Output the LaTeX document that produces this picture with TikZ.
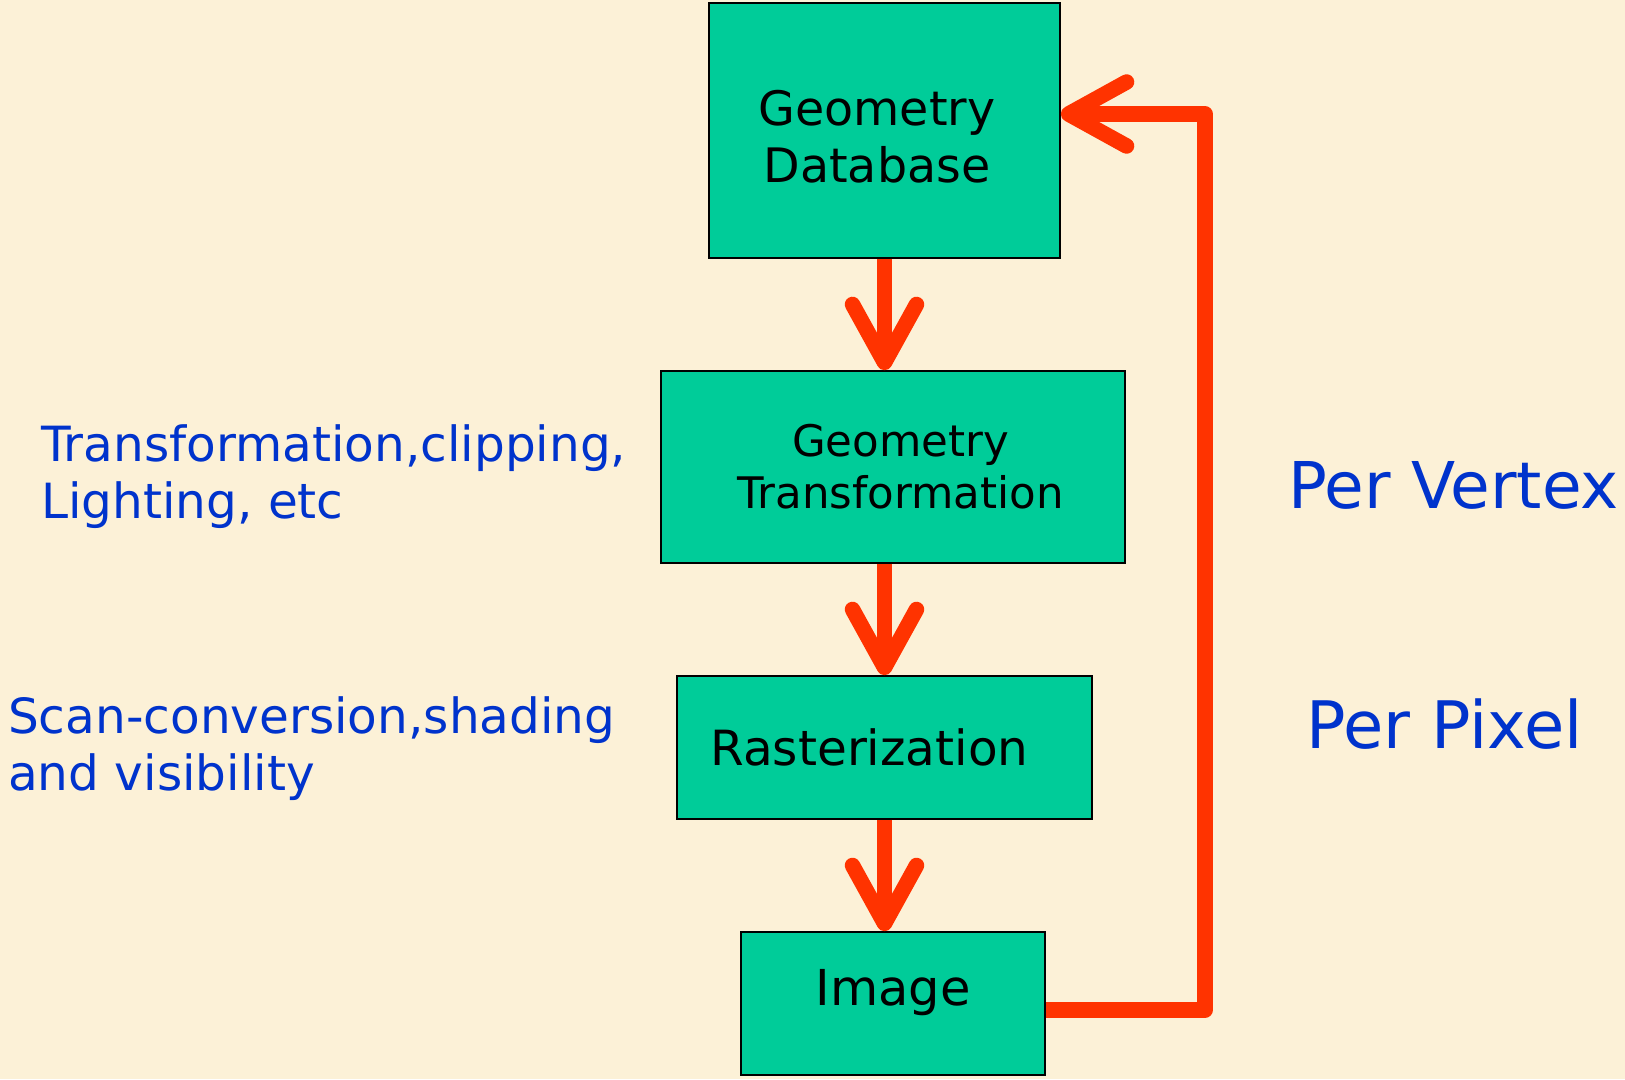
\documentclass[tikz,border=0pt]{standalone}
\usepackage{fontspec}
\setmainfont{DejaVu Sans}
\usetikzlibrary{arrows.meta}
\definecolor{bg}{RGB}{252,241,215}
\definecolor{boxgreen}{RGB}{0,204,153}
\definecolor{arrred}{RGB}{255,51,0}
\definecolor{txtblue}{RGB}{0,51,204}
\begin{document}
\begin{tikzpicture}[x=1pt,y=-1pt,
  stage/.style={draw=black, line width=1.6pt, fill=boxgreen, inner sep=0pt, rectangle},
  boxtext/.style={inner sep=0pt, align=center, text=black},
  note/.style={inner sep=0pt, align=left, text=txtblue},
  flow/.style={draw=arrred, line width=15.5pt, -{Straight Barb[length=58pt, width=64pt, round]}}]
\useasboundingbox (0,0) rectangle (1625,1079);
\fill[bg] (0,0) rectangle (1625,1079);
% stages
\node[stage, minimum width=351pt, minimum height=255pt] (db) at (884.5,130.5) {};
\node[stage, minimum width=464pt, minimum height=192pt] (gt) at (893,467) {};
\node[stage, minimum width=415pt, minimum height=143pt] (ras) at (884.5,747.5) {};
\node[stage, minimum width=304pt, minimum height=143pt] (img) at (893,1003.5) {};
% stage texts
\node[boxtext, anchor=north, font=\fontsize{47.5}{57}\selectfont] (dbt) at (877,90) {Geometry\\Database};
\node[boxtext, anchor=north, font=\fontsize{43.5}{52}\selectfont] (gtt) at (900.5,424) {Geometry\\Transformation};
\node[boxtext, anchor=base, font=\fontsize{48.5}{57}\selectfont] (rast) at (869.5,765) {Rasterization};
\node[boxtext, anchor=base, font=\fontsize{49.5}{57}\selectfont] (imgt) at (893,1005) {Image};
% side notes
\node[note, anchor=north west, font=\fontsize{48.5}{57}\selectfont] (n1) at (41,424) {Transformation,clipping,\\Lighting, etc};
\node[note, anchor=north west, font=\fontsize{48.5}{57}\selectfont] (n2) at (8,696) {Scan-conversion,shading\\and visibility};
\node[note, anchor=base west, font=\fontsize{64.5}{76}\selectfont] (pv) at (1288,508) {Per Vertex};
\node[note, anchor=base west, font=\fontsize{65.5}{78}\selectfont] (pp) at (1306,748) {Per Pixel};
% connectors
\draw[flow] (db.south) -- (db.south |- gt.north);
\draw[flow] (db.south |- gt.south) -- (db.south |- ras.north);
\draw[flow] (ras.south) -- (ras.south |- img.north);
\coordinate (fb) at (1205,114);
\draw[flow, line join=round] ([yshift=-6.5pt]img.east) -| (fb) -- (fb -| db.east);
\end{tikzpicture}
\end{document}
